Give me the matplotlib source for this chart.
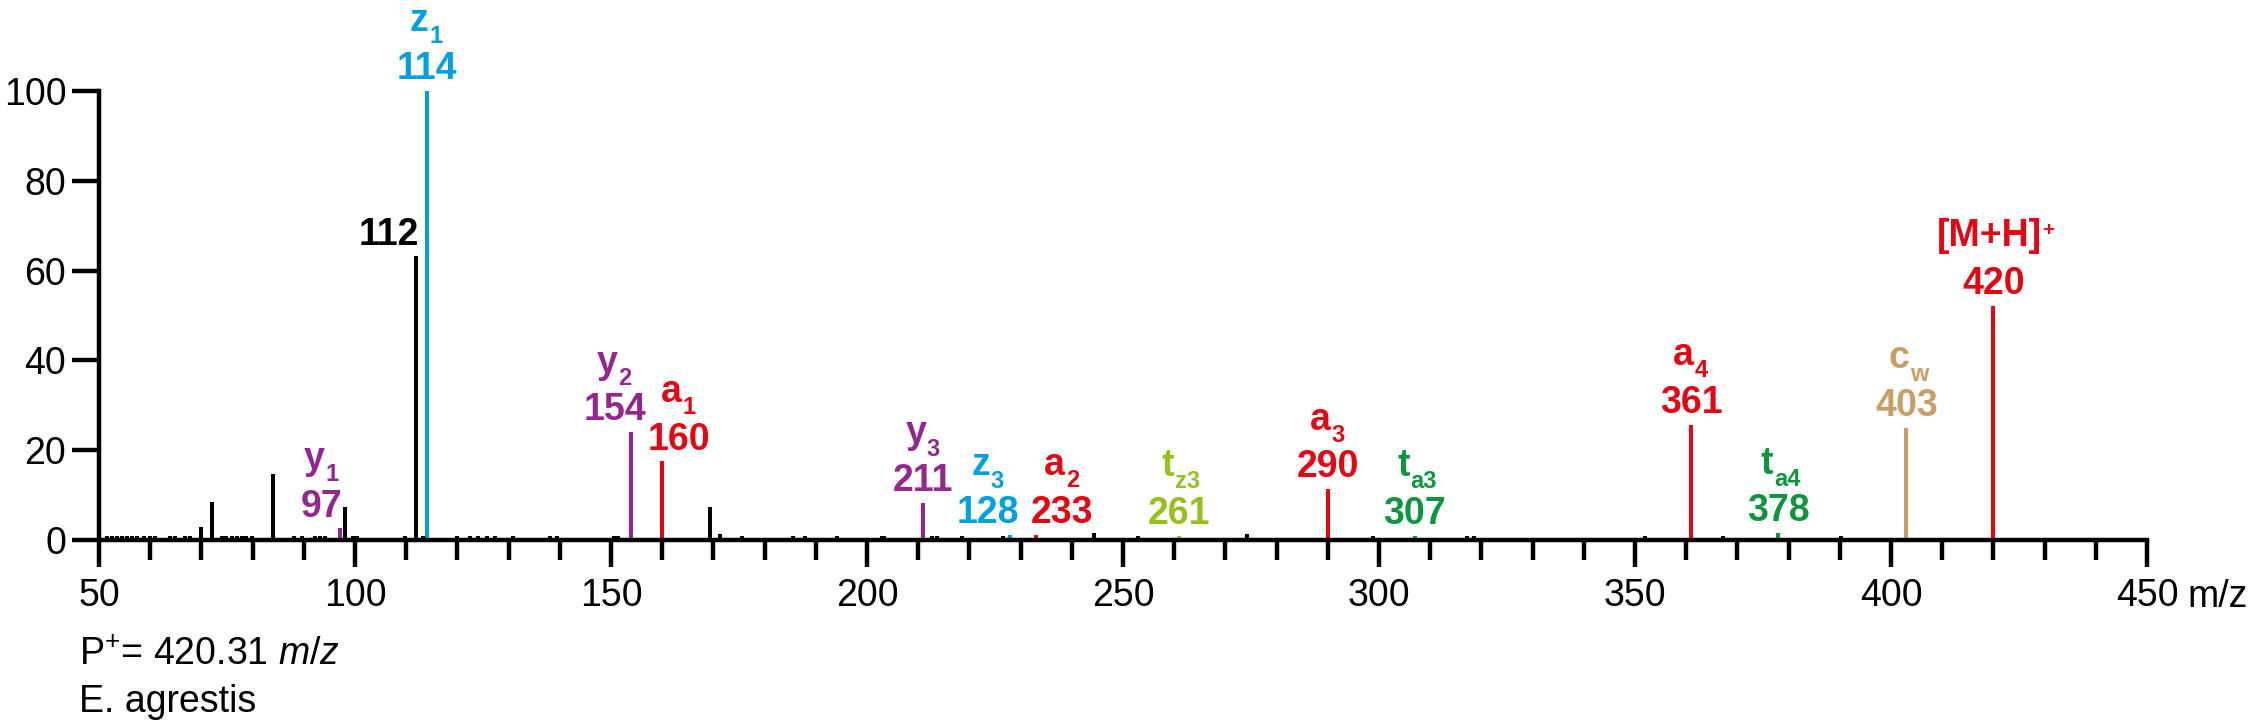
import matplotlib
matplotlib.use("Agg")
import matplotlib.pyplot as plt
from matplotlib.ticker import MultipleLocator

plt.rcParams['font.family'] = ['Liberation Sans', 'DejaVu Sans']
plt.rcParams['mathtext.fontset'] = 'custom'
plt.rcParams['mathtext.rm'] = 'Liberation Sans'
plt.rcParams['mathtext.it'] = 'Liberation Sans:italic'
plt.rcParams['mathtext.bf'] = 'Liberation Sans:bold'

# ---- unassigned peaks (m/z, relative intensity)
noise_mz = [51.5, 52.5, 53.5, 54.4, 55.4, 56.4, 57.4, 58.7, 60, 60.9, 63.9, 64.8, 66.8, 67.8,
            70, 72, 74, 74.9, 75.9, 76.9, 77.9, 78.8, 79.8, 84, 88, 89.6, 92.2, 93.2, 94.1,
            98, 99.7, 100.3, 109.8, 112, 113.3, 119.9, 122.5, 124.1, 125.7, 127.3, 130.9,
            138.1, 139.4, 150.5, 151.4, 169.3, 171.3, 175.5, 185.6, 187.9, 194.1, 202.9,
            203.4, 212.6, 213.6, 218.5, 226.6, 244.3, 253, 274.3, 298.9, 317.1, 318.6,
            352, 367.1, 390.2]
noise_int = [0.8, 0.8, 0.8, 0.8, 0.8, 0.8, 0.8, 0.8, 0.9, 0.8, 0.8, 0.8, 0.8, 0.8,
             2.8, 8.4, 0.9, 0.9, 0.9, 0.8, 0.9, 0.8, 0.8, 14.7, 0.8, 0.8, 0.8, 0.9, 0.8,
             7.4, 1.0, 0.9, 0.9, 63.2, 1.0, 0.9, 0.8, 0.8, 0.8, 0.8, 0.9,
             0.8, 0.9, 0.8, 0.9, 7.4, 1.3, 0.9, 0.8, 0.8, 0.8, 0.9,
             0.9, 0.9, 0.9, 0.8, 0.9, 1.6, 0.9, 1.3, 0.9, 1.0, 1.0,
             0.9, 0.9, 0.8]

# ---- assigned fragment ions
ion_mz = [97, 114, 154, 160, 211, 228, 233, 261, 290, 307, 361, 378, 403, 420]
ion_int = [2.6, 100, 24.0, 17.5, 8.2, 1.1, 1.2, 0.9, 11.3, 0.9, 25.7, 1.5, 24.9, 52.2]
ion_letra = ['y', 'z', 'y', 'a', 'y', 'z', 'a', 't', 'a', 't', 'a', 't', 'c', '[M+H]']
ion_sub = ['1', '1', '2', '1', '3', '3', '2', 'z3', '3', 'a3', '4', 'a4', 'w', '+']
ion_text = ['97', '114', '154', '160', '211', '128', '233', '261', '290', '307', '361', '378', '403', '420']
ion_type = ['y', 'z', 'y', 'a', 'y', 'z', 'a', 'tz', 'a', 'ta', 'a', 'ta', 'c', 'a']

# black labelled peak
base_mz = 112
base_text = '112'

# horizontal shift of labels (points) where they were moved off the peak
ion_dx = [-13, 0, -12, 12, 0, -16, 19, 0, 0, 0, 0, 0, 0, 0]

colores = {'a': '#E30613', 'y': '#93278F', 'z': '#009FE3', 'tz': '#95C11F',
           'ta': '#119440', 'c': '#C89E66'}

fig = plt.figure(figsize=(22.53, 7.25), dpi=100)
ax = fig.add_axes([99 / 2253, 1 - 540 / 725, (2147 - 99) / 2253, (540 - 91) / 725])

ax.vlines(noise_mz, 0, noise_int, colors='black', linewidth=2.9)
for i in range(len(ion_mz)):
    ax.vlines(ion_mz[i], 0, ion_int[i], colors=colores[ion_type[i]], linewidth=2.9)

# etiquetas dos picos: numero, letra do ion e subscrito
for i in range(len(ion_mz)):
    cor = colores[ion_type[i]]
    ax.annotate(ion_text[i], xy=(ion_mz[i], ion_int[i]), xytext=(ion_dx[i], 8.5),
                textcoords='offset points', ha='center', va='baseline',
                fontsize=27, fontweight='bold', color=cor, annotation_clip=False)
    sup = ion_letra[i].endswith(']')
    desl = 3 + 2.5 * len(ion_sub[i]) if not sup else 3
    letra = ax.annotate(ion_letra[i], xy=(ion_mz[i], ion_int[i]),
                        xytext=(ion_dx[i] - desl, 43),
                        textcoords='offset points', ha='center', va='baseline',
                        fontsize=27, fontweight='bold', color=cor, annotation_clip=False)
    if sup:
        ax.annotate(ion_sub[i], xy=(1, 1), xycoords=letra, xytext=(0.5, -2),
                    textcoords='offset points', ha='left', va='top',
                    fontsize=15, fontweight='bold', color=cor, annotation_clip=False)
    else:
        ax.annotate(ion_sub[i], xy=(1, 0), xycoords=letra, xytext=(0.5, -3),
                    textcoords='offset points', ha='left', va='baseline',
                    fontsize=17, fontweight='bold', color=cor, annotation_clip=False)

i112 = noise_mz.index(base_mz)
ax.annotate(base_text, xy=(base_mz, noise_int[i112]), xytext=(2, 8),
            textcoords='offset points', ha='right', va='baseline',
            fontsize=27, fontweight='bold', color='black', annotation_clip=False)

ax.set_xlim(50, 450)
ax.set_ylim(0, 100)
ax.set_xticks(range(50, 451, 50))
ax.xaxis.set_minor_locator(MultipleLocator(10))
ax.set_yticks(range(0, 101, 20))

for lado in ['top', 'right']:
    ax.spines[lado].set_visible(False)
for lado in ['left', 'bottom']:
    ax.spines[lado].set_linewidth(3.2)

ax.tick_params(which='major', length=19.5, width=3.2, labelsize=27, direction='out')
ax.tick_params(which='minor', length=14.5, width=3.2, direction='out')
ax.tick_params(axis='x', which='major', pad=8)
ax.tick_params(axis='y', which='major', pad=4)

ax.annotate('m/z', xy=(450, 0), xytext=(29, -48), textcoords='offset points',
            ha='left', va='baseline', fontsize=27, annotation_clip=False)

fig.text(79 / 2253, 1 - 665 / 725, 'P$^{+}$= 420.31 $\\mathit{m/z}$', fontsize=27,
         ha='left', va='baseline')
fig.text(79 / 2253, 1 - 712 / 725, 'E. agrestis', fontsize=27, ha='left', va='baseline')

fig.savefig('out.png', dpi=100)
